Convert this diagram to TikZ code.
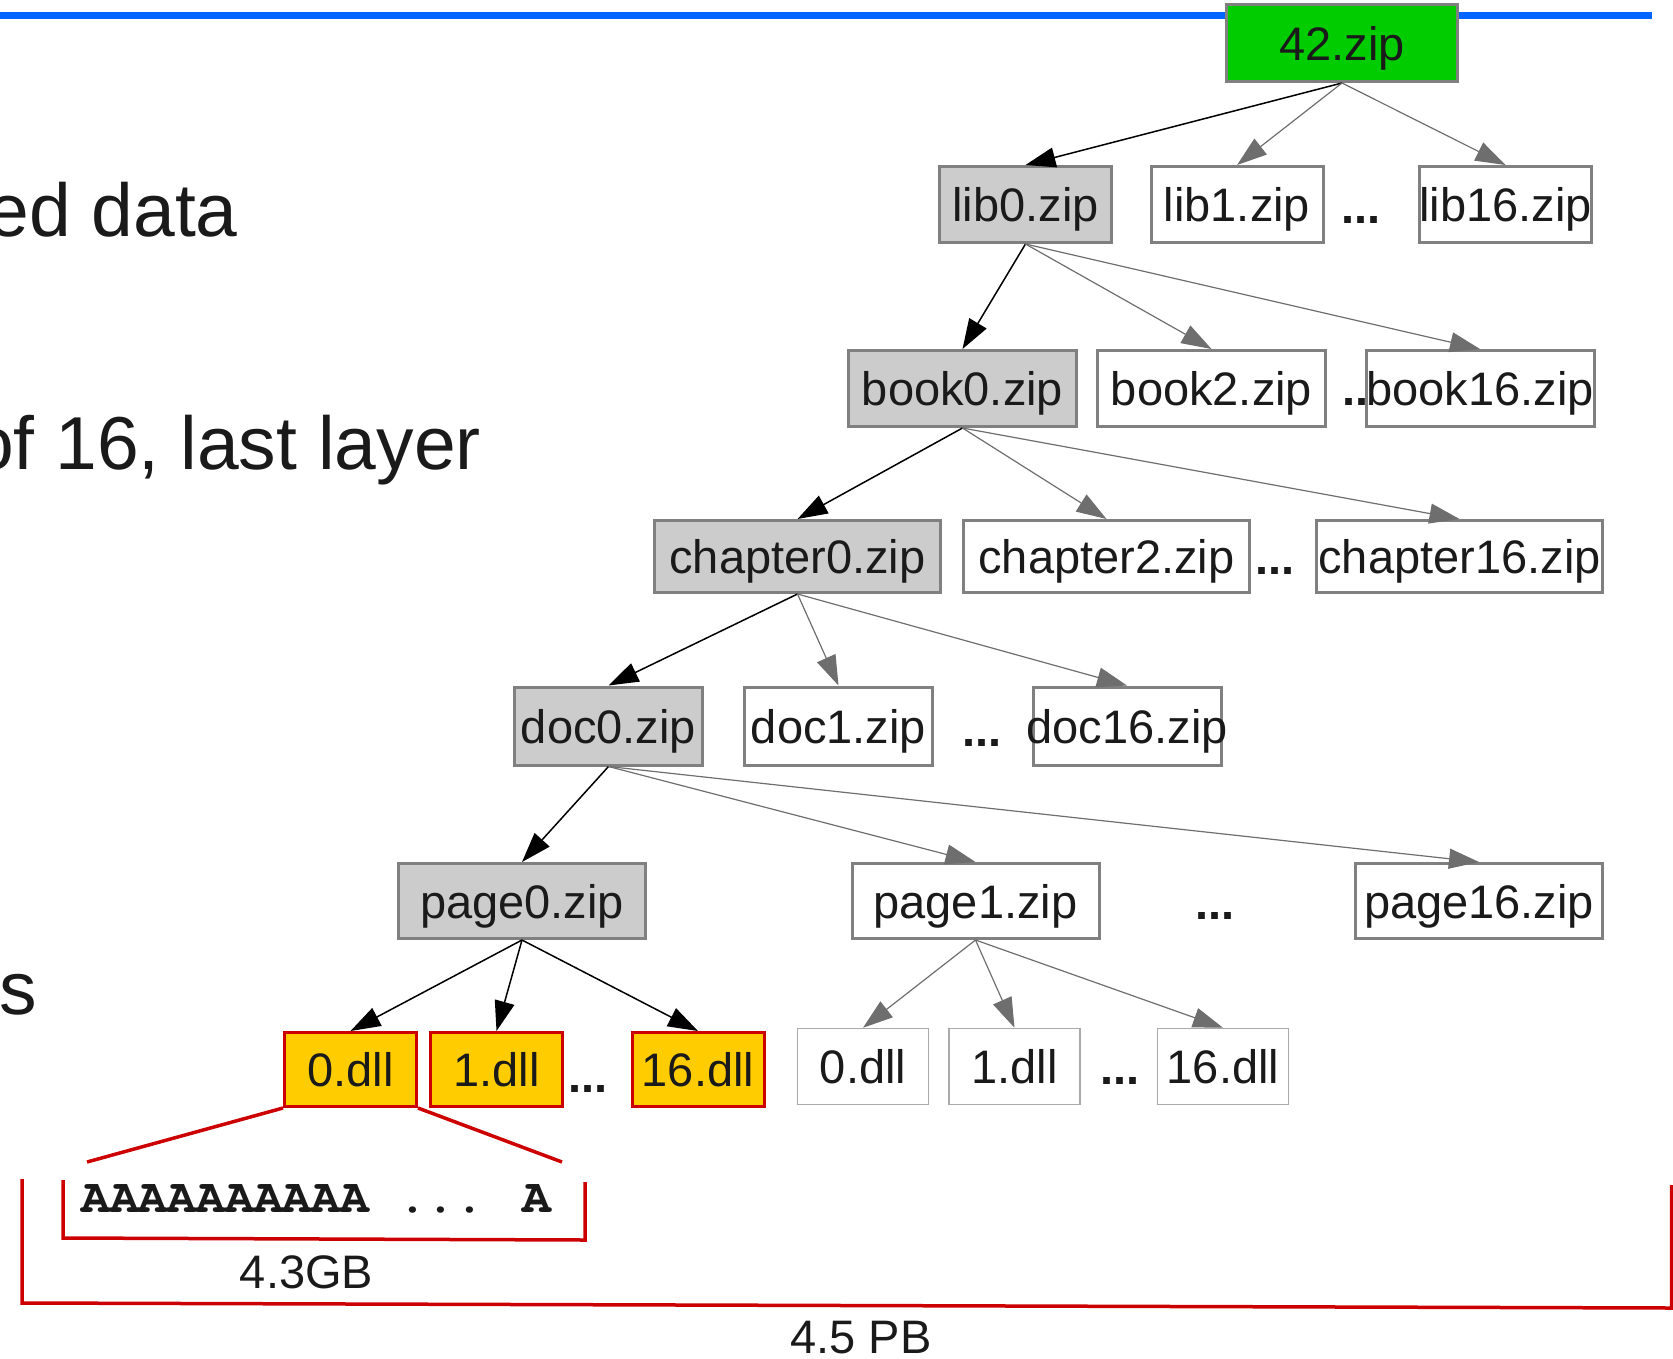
\documentclass[tikz,border=0pt]{standalone}
\usepackage{fontspec}
\setmainfont{Liberation Sans}
\newfontfamily\monob{TeX Gyre Cursor}
\usetikzlibrary{arrows.meta}
\definecolor{bluebar}{HTML}{0066FF}
\definecolor{topgreen}{HTML}{00CC00}
\definecolor{pathgray}{HTML}{CCCCCC}
\definecolor{dllyellow}{HTML}{FFCC00}
\definecolor{redline}{HTML}{CC0000}
\definecolor{boxgray}{HTML}{808080}
\definecolor{thingray}{HTML}{AAAAAA}
\definecolor{edgegray}{HTML}{6E6E6E}
\definecolor{txt}{HTML}{1A1A1A}
\newcommand{\lbl}[1]{\makebox[0pt]{#1}}
\begin{document}
\begin{tikzpicture}[x=1pt,y=-1pt,
  zbox/.style={draw=boxgray,line width=3pt,inner sep=0pt,text=txt,
    font=\fontsize{47}{56}\selectfont,text height=40pt,text depth=6pt},
  topbox/.style={zbox,fill=topgreen,minimum width=231pt,minimum height=77pt},
  libbox/.style={zbox,minimum width=172pt,minimum height=76pt},
  bookbox/.style={zbox,minimum width=228pt,minimum height=76pt},
  chapbox/.style={zbox,minimum width=286pt,minimum height=72pt},
  docbox/.style={zbox,minimum width=188pt,minimum height=78pt},
  pagebox/.style={zbox,minimum width=247pt,minimum height=75pt},
  hot/.style={fill=pathgray},
  cold/.style={fill=white},
  ydll/.style={zbox,draw=redline,fill=dllyellow,minimum width=132pt,minimum height=74pt},
  wdll/.style={zbox,draw=thingray,line width=1.5pt,fill=white,minimum width=131pt,minimum height=76pt},
  dots/.style={anchor=base,inner sep=0pt,text=txt,font=\fontsize{47}{56}\selectfont\bfseries},
  bigtxt/.style={anchor=base east,inner sep=0pt,text=txt,font=\fontsize{75}{90}\selectfont},
  midtxt/.style={anchor=base,inner sep=0pt,text=txt,font=\fontsize{47}{56}\selectfont,text depth=0pt},
  hotedge/.style={draw=black,line width=1.5pt,-{Triangle[length=30pt,width=20pt]}},
  coldedge/.style={draw=edgegray,line width=1.2pt,-{Triangle[length=30pt,width=20pt]}},
  redl/.style={draw=redline,line width=3.5pt}
]
\useasboundingbox (0,0) rectangle (1673,1358);
\clip (0,0) rectangle (1673,1358);

% heading bar
\draw[bluebar,line width=7pt] (0,15.5) -- (1652,15.5);

% side texts (cut off by the left edge)
\node[bigtxt] (t1) at (238,236) {ed data};
\node[bigtxt] (t2) at (481,469) {of 16, last layer};
\node[bigtxt] (t3) at (37,1014) {s};

% ellipses (drawn first so boxes cover them)
\node[dots] (e1) at (1361,223) {...};
\node[dots] (e2) at (1362,405) {...};
\node[dots] (e3) at (1275,574) {...};
\node[dots] (e4) at (982,746) {...};
\node[dots] (e5) at (1215,919) {...};
\node[dots] (e6) at (588,1092) {...};
\node[dots] (e7) at (1120,1084) {...};

% tree nodes
\node[topbox] (top) at (1342,43) {\lbl{42.zip}};

\node[libbox,hot] (lib0) at (1025.5,204.5) {\lbl{lib0.zip}};
\node[libbox,cold] (lib1) at (1237,204.5) {\lbl{lib1.zip}};
\node[libbox,cold] (lib16) at (1505.5,204.5) {\lbl{lib16.zip}};

\node[bookbox,hot] (book0) at (962.5,388.5) {\lbl{book0.zip}};
\node[bookbox,cold] (book2) at (1211.5,388.5) {\lbl{book2.zip}};
\node[bookbox,cold] (book16) at (1480,388.5) {\lbl{book16.zip}};

\node[chapbox,hot] (ch0) at (797.5,556.5) {\lbl{chapter0.zip}};
\node[chapbox,cold] (ch2) at (1106.5,556.5) {\lbl{chapter2.zip}};
\node[chapbox,cold] (ch16) at (1459.5,556.5) {\lbl{chapter16.zip}};

\node[docbox,hot] (doc0) at (608.5,726) {\lbl{doc0.zip}};
\node[docbox,cold] (doc1) at (838.5,726) {\lbl{doc1.zip}};
\node[docbox,cold] (doc16) at (1127,726) {\lbl{doc16.zip}};

\node[pagebox,hot] (pg0) at (522,901) {\lbl{page0.zip}};
\node[pagebox,cold] (pg1) at (975.5,901) {\lbl{page1.zip}};
\node[pagebox,cold] (pg16) at (1479,901) {\lbl{page16.zip}};

\node[ydll] (y0) at (350.5,1069.5) {\lbl{0.dll}};
\node[ydll] (y1) at (496.5,1069.5) {\lbl{1.dll}};
\node[ydll] (y16) at (698,1069.5) {\lbl{16.dll}};

\node[wdll] (w0) at (863,1066.5) {\lbl{0.dll}};
\node[wdll] (w1) at (1014.5,1066.5) {\lbl{1.dll}};
\node[wdll] (w16) at (1223,1066.5) {\lbl{16.dll}};

% connectors
\draw[hotedge] (top.south) -- (lib0.north);
\draw[coldedge] (top.south) -- (lib1.north);
\draw[coldedge] (top.south) -- (lib16.north);

\draw[hotedge] (lib0.south) -- (book0.north);
\draw[coldedge] (lib0.south) -- (book2.north);
\draw[coldedge] (lib0.south) -- (book16.north);

\draw[hotedge] (book0.south) -- (ch0.north);
\draw[coldedge] (book0.south) -- (ch2.north);
\draw[coldedge] (book0.south) -- (ch16.north);

\draw[hotedge] (ch0.south) -- (doc0.north);
\draw[coldedge] (ch0.south) -- (doc1.north);
\draw[coldedge] (ch0.south) -- (doc16.north);

\draw[hotedge] (doc0.south) -- (pg0.north);
\draw[coldedge] (doc0.south) -- (pg1.north);
\draw[coldedge] (doc0.south) -- (pg16.north);

\draw[hotedge] (pg0.south) -- (y0.north);
\draw[hotedge] (pg0.south) -- (y1.north);
\draw[hotedge] (pg0.south) -- (y16.north);

\draw[coldedge] (pg1.south) -- (w0.north);
\draw[coldedge] (pg1.south) -- (w1.north);
\draw[coldedge] (pg1.south) -- (w16.north);

% zoom-in of 0.dll
\coordinate (zl) at (87,1162);
\coordinate (zr) at (562,1162);
\draw[redl] (y0.south west) -- (zl);
\draw[redl] (y0.south east) -- (zr);

\node[anchor=base west,inner sep=0pt,text=txt,font=\monob\bfseries\fontsize{48}{56}\selectfont] (aaa) at (81,1212) {AAAAAAAAAA ... A};

% brackets
\draw[redl] (63,1180) -- (63,1238) -- (585,1240) -- (585,1182);
\draw[redl] (22,1179) -- (22,1303) -- (1671.5,1308) -- (1671.5,1185);

\node[midtxt] (gb) at (306.5,1288) {4.3GB};
\node[midtxt] (pb) at (861,1353) {4.5 PB};
\end{tikzpicture}
\end{document}
